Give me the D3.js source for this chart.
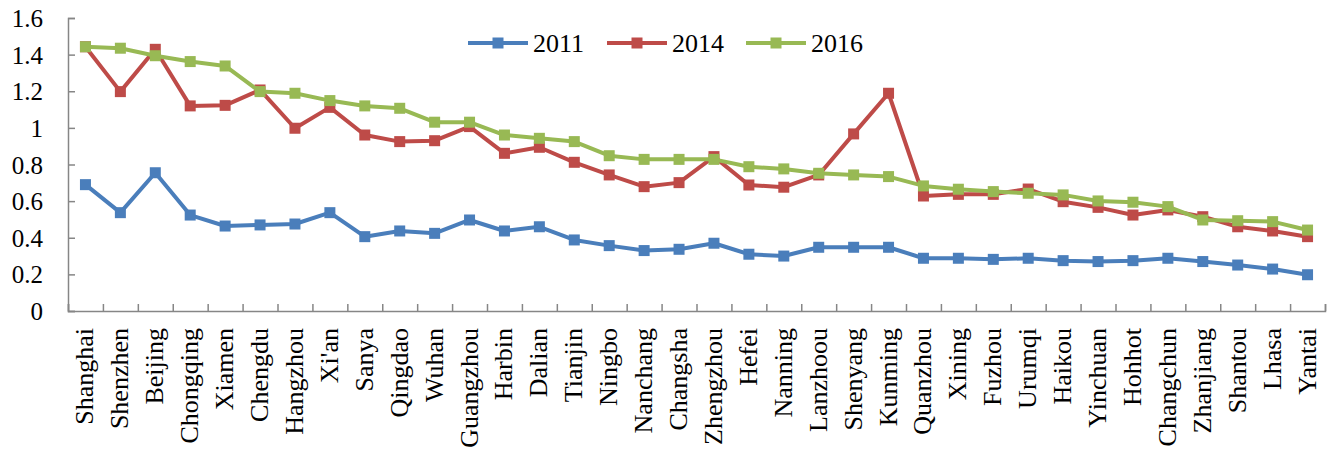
<!DOCTYPE html>
<html>
<head>
<meta charset="utf-8">
<script src="https://cdn.jsdelivr.net/npm/d3@7"></script>
<style>
  body { margin: 0; background: #fff; }
  svg text { font-family: "Liberation Serif", "Times New Roman", "DejaVu Serif", serif !important; fill: #000; }
</style>
</head>
<body>
<div id="chart"></div>
<script>
const cities = ["Shanghai", "Shenzhen", "Beijing", "Chongqing", "Xiamen", "Chengdu", "Hangzhou", "Xi'an", "Sanya", "Qingdao",
    "Wuhan", "Guangzhou", "Harbin", "Dalian", "Tianjin", "Ningbo", "Nanchang", "Changsha", "Zhengzhou", "Hefei",
    "Nanning", "Lanzhoou", "Shenyang", "Kunming", "Quanzhou", "Xining", "Fuzhou", "Urumqi", "Haikou", "Yinchuan",
    "Hohhot", "Changchun", "Zhanjiang", "Shantou", "Lhasa", "Yantai"];

const v2011 = [0.69, 0.537, 0.755, 0.524, 0.464, 0.47, 0.475, 0.537, 0.406, 0.437,
    0.424, 0.497, 0.437, 0.46, 0.388, 0.357, 0.33, 0.337, 0.37, 0.31,
    0.30, 0.348, 0.348, 0.348, 0.288, 0.288, 0.282, 0.288, 0.275, 0.27,
    0.275, 0.288, 0.27, 0.251, 0.229, 0.198];

const v2014 = [1.443, 1.198, 1.429, 1.12, 1.123, 1.207, 0.998, 1.112, 0.961, 0.925,
    0.93, 1.007, 0.861, 0.894, 0.812, 0.743, 0.679, 0.701, 0.843, 0.688,
    0.676, 0.743, 0.967, 1.189, 0.628, 0.637, 0.637, 0.666, 0.597, 0.566,
    0.524, 0.552, 0.515, 0.46, 0.437, 0.406];

const v2016 = [1.443, 1.435, 1.394, 1.362, 1.338, 1.198, 1.189, 1.149, 1.12, 1.107,
    1.031, 1.031, 0.961, 0.943, 0.925, 0.848, 0.828, 0.828, 0.828, 0.788,
    0.776, 0.752, 0.743, 0.734, 0.683, 0.665, 0.652, 0.643, 0.634, 0.601,
    0.594, 0.57, 0.497, 0.493, 0.488, 0.442];

const yTicks = [0, 0.2, 0.4, 0.6, 0.8, 1, 1.2, 1.4, 1.6];

const series = [
    { name: "2011", values: v2011, color: "#4a7ebb" },
    { name: "2014", values: v2014, color: "#be4b48" },
    { name: "2016", values: v2016, color: "#98b954" }
];

const width = 1336, height = 453;
const plotLeft = 68, plotRight = 1325, plotTop = 18, plotBottom = 311;
const FONT = "Liberation Serif, Times New Roman, serif";

const svg = d3.select("#chart").append("svg")
    .attr("width", width)
    .attr("height", height)
    .attr("font-family", FONT);

const x = d3.scaleBand().domain(cities).range([plotLeft, plotRight]).padding(0);
const xEdge = d3.scaleLinear().domain([0, cities.length]).range([plotLeft, plotRight]);
const y = d3.scaleLinear().domain([0, 1.6]).range([plotBottom, plotTop]);

// y axis
const yAxis = svg.append("g")
    .attr("transform", `translate(${plotLeft},0)`)
    .call(d3.axisLeft(y).tickValues(yTicks).tickSize(-7).tickPadding(25)
        .tickFormat(d => String(+d.toFixed(1))));
yAxis.attr("font-family", FONT).attr("font-size", 25);
yAxis.selectAll("text").attr("dy", "0.34em");

// x axis: ticks sit between categories
const xAxis = svg.append("g")
    .attr("transform", `translate(0,${plotBottom})`)
    .call(d3.axisBottom(xEdge).tickValues(d3.range(cities.length + 1)).tickSize(-7).tickFormat(""));

[yAxis, xAxis].forEach(g => {
    g.select(".domain").attr("stroke", "#868686").attr("stroke-width", 1.5);
    g.selectAll(".tick line").attr("stroke", "#868686").attr("stroke-width", 1.5);
});

svg.append("g").selectAll("text")
    .data(cities)
    .enter().append("text")
    .attr("transform", d => `translate(${x(d) + x.bandwidth() / 2 + 8},${plotBottom + 17}) rotate(-90)`)
    .attr("text-anchor", "end")
    .attr("font-size", 26)
    .text(d => d);

// lines + markers
const line = d3.line()
    .x((d, i) => x(cities[i]) + x.bandwidth() / 2)
    .y(d => y(d));

const MARK = 11;

series.forEach(s => {
    svg.append("path")
        .datum(s.values)
        .attr("fill", "none")
        .attr("stroke", s.color)
        .attr("stroke-width", 4)
        .attr("stroke-linejoin", "round")
        .attr("d", line);

    svg.append("g").selectAll("rect")
        .data(s.values)
        .enter().append("rect")
        .attr("x", (d, i) => x(cities[i]) + x.bandwidth() / 2 - MARK / 2)
        .attr("y", d => y(d) - MARK / 2)
        .attr("width", MARK)
        .attr("height", MARK)
        .attr("fill", s.color);
});

// legend
const legendX = [468, 607, 746];
const legend = svg.append("g");
series.forEach((s, i) => {
    const g = legend.append("g").attr("transform", `translate(${legendX[i]},43)`);
    g.append("line")
        .attr("x1", 0).attr("x2", 60)
        .attr("stroke", s.color).attr("stroke-width", 4);
    g.append("rect")
        .attr("x", 30 - MARK / 2).attr("y", -MARK / 2)
        .attr("width", MARK).attr("height", MARK)
        .attr("fill", s.color);
    g.append("text")
        .attr("x", 65).attr("dy", "0.35em")
        .attr("font-size", 26)
        .text(s.name);
});
</script>
</body>
</html>
